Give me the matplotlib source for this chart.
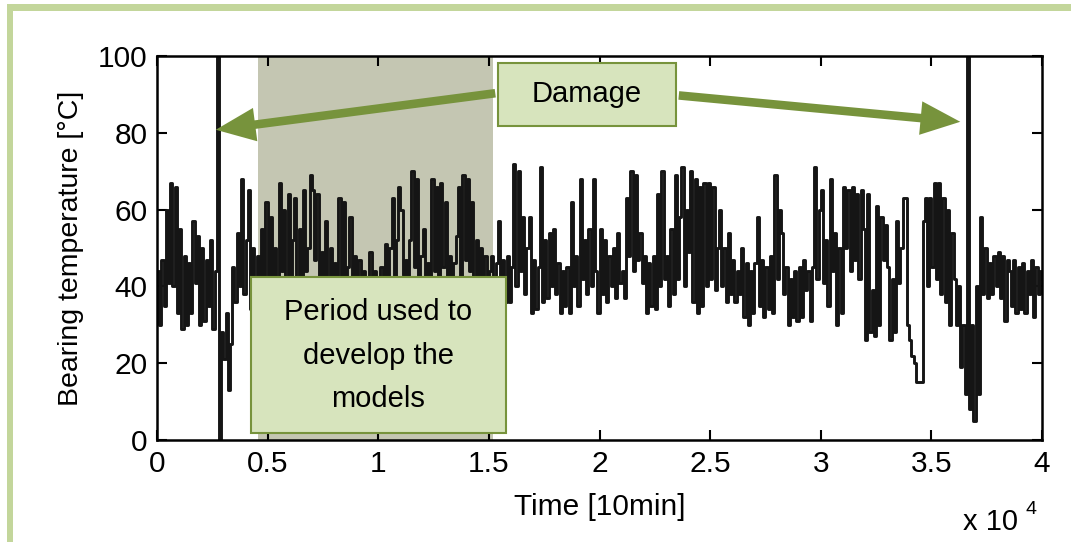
import numpy as np
import matplotlib
matplotlib.use('Agg')
import matplotlib.pyplot as plt
from matplotlib.patches import Rectangle, FancyArrowPatch

plt.rcParams['font.family'] = ['Liberation Sans', 'DejaVu Sans']

# bearing temperature [degC], one reading every 100 samples
temp = [
    44, 30, 47, 35, 60, 41, 67, 40, 66, 33,
    55, 29, 48, 30, 46, 33, 57, 41, 53, 30,
    50, 31, 47, 35, 52, 29, 44, 100, 0, 28,
    21, 33, 13, 25, 45, 36, 54, 40, 68, 38,
    52, 65, 34, 50, 36, 48, 38, 55, 40, 62,
    42, 58, 36, 50, 40, 67, 44, 60, 38, 64,
    40, 52, 63, 41, 55, 38, 65, 44, 50, 69,
    65, 47, 64, 40, 49, 38, 57, 42, 50, 37,
    46, 39, 63, 40, 62, 37, 45, 58, 38, 48,
    40, 47, 36, 44, 38, 42, 49, 37, 44, 39,
    41, 45, 38, 51, 40, 50, 63, 42, 52, 66,
    60, 43, 47, 39, 52, 70, 45, 68, 40, 48,
    55, 38, 46, 40, 68, 44, 66, 41, 67, 45,
    62, 40, 48, 38, 46, 53, 66, 42, 69, 47,
    68, 44, 62, 40, 52, 38, 50, 40, 48, 36,
    44, 48, 40, 46, 57, 42, 47, 36, 48, 36,
    45, 72, 40, 70, 44, 58, 38, 50, 58, 33,
    47, 34, 45, 71, 36, 52, 37, 54, 40, 55,
    38, 46, 33, 44, 35, 45, 33, 62, 40, 48,
    35, 68, 42, 52, 38, 55, 40, 68, 44, 33,
    55, 38, 52, 36, 48, 40, 50, 37, 54, 41,
    44, 37, 63, 48, 70, 44, 69, 47, 54, 41,
    48, 33, 46, 35, 48, 34, 64, 40, 70, 42,
    48, 35, 55, 38, 69, 42, 58, 71, 40, 60,
    49, 70, 36, 68, 33, 66, 35, 67, 40, 67,
    42, 66, 39, 50, 60, 40, 50, 36, 54, 38,
    47, 36, 44, 38, 50, 32, 46, 30, 44, 33,
    46, 58, 35, 47, 32, 45, 34, 48, 33, 69,
    42, 60, 54, 38, 45, 30, 42, 32, 44, 31,
    45, 32, 47, 39, 44, 31, 45, 71, 42, 60,
    65, 41, 52, 35, 68, 44, 54, 30, 50, 33,
    66, 50, 65, 44, 66, 47, 64, 42, 65, 55,
    26, 64, 28, 39, 27, 61, 30, 58, 47, 56,
    45, 26, 42, 28, 57, 41, 50, 63, 63, 30,
    26, 22, 20, 15, 15, 15, 57, 63, 40, 63,
    45, 67, 42, 67, 38, 63, 36, 60, 30, 54,
    42, 30, 40, 19, 30, 12, 100, 8, 30, 5,
    40, 12, 58, 38, 50, 37, 46, 38, 48, 40,
    49, 37, 48, 31, 47, 44, 35, 47, 33, 45,
    34, 46, 33, 44, 38, 47, 32, 45, 38, 44,
    42,
]
step = 100
xticks = [0, 5000, 10000, 15000, 20000, 25000, 30000, 35000, 40000]
xticklabels = ['0', '0.5', '1', '1.5', '2', '2.5', '3', '3.5', '4']
yticks = [0, 20, 40, 60, 80, 100]
train_period = (4565, 15186)

GREEN_EDGE = '#77933c'
GREEN_FILL = '#d7e4bd'
FRAME = '#c3d69b'

fig = plt.figure(figsize=(10.71, 5.42), dpi=100)
# light green frame around the slide
fig.add_artist(Rectangle((7/1071, 0), 6/1071, 1 - 4/542, transform=fig.transFigure,
                         color=FRAME, lw=0))
fig.add_artist(Rectangle((7/1071, 1 - 11/542), 1, 7/542, transform=fig.transFigure,
                         color=FRAME, lw=0))

ax = fig.add_axes([157/1071, 102/542, 885/1071, 384/542])

x = np.arange(len(temp)) * step
ax.axvspan(train_period[0], train_period[1], color='#c4c6b2', lw=0, zorder=1)
ax.plot(x, temp, drawstyle='steps-post', color='#151515', linewidth=2.1, zorder=2)

ax.set_xlim(0, 40000)
ax.set_ylim(0, 100)
ax.set_xticks(xticks)
ax.set_xticklabels(xticklabels)
ax.set_yticks(yticks)
ax.tick_params(direction='in', length=7, width=1.5, top=True, right=True,
               labelsize=21.5, pad=7)
for s in ax.spines.values():
    s.set_linewidth(1.8)
ax.set_xlabel('Time [10min]', fontsize=21.5, labelpad=11)
ax.set_ylabel('Bearing temperature [°C]', fontsize=20.5, labelpad=10)

fig.text(963/1071, 1 - 522/542, 'x 10', fontsize=21, ha='left', va='center')
fig.text(1025/1071, 1 - 509/542, '4', fontsize=14, ha='left', va='center')

# damage arrows
for tail, head in [((15413, 90.4), (2531, 80.7)), ((23459, 89.8), (36431, 82.8))]:
    ax.add_patch(FancyArrowPatch(tail, head, arrowstyle='simple,head_length=1.3,head_width=1.1,tail_width=0.28',
                                 mutation_scale=22, color=GREEN_EDGE, lw=0,
                                 clip_on=False, zorder=5))

# annotation boxes
ax.add_patch(Rectangle((15413, 81.8), 8046, 16.4, facecolor=GREEN_FILL, edgecolor=GREEN_EDGE,
                       lw=1.5, zorder=6, clip_on=False))
ax.text(19436, 90, 'Damage', fontsize=21, ha='center', va='center', zorder=7)

ax.add_patch(Rectangle((4249, 1.8), 11526, 40.6, facecolor=GREEN_FILL, edgecolor=GREEN_EDGE,
                       lw=1.5, zorder=6, clip_on=False))
ax.text(10012, 22, 'Period used to\ndevelop the\nmodels', fontsize=21, ha='center',
        va='center', linespacing=1.7, zorder=7)

plt.savefig('out.png', dpi=100)
plt.close()
